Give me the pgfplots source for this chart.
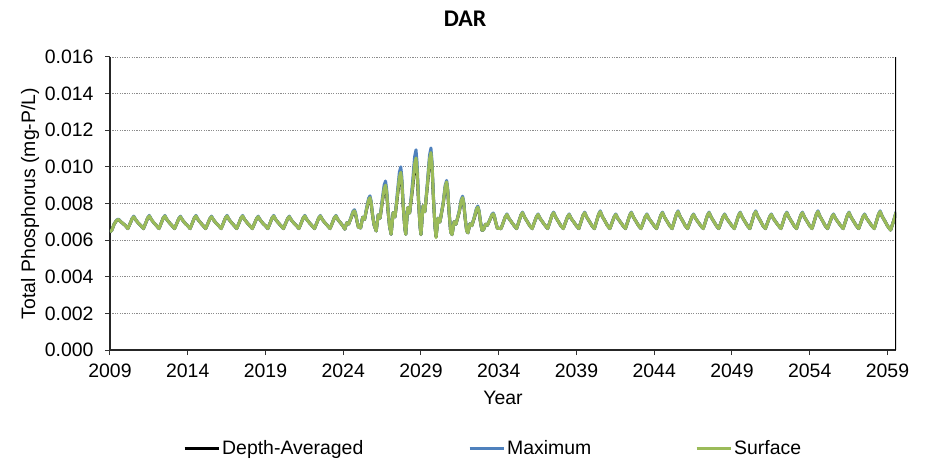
\documentclass[border=0pt]{standalone}
\usepackage{pgfplots}
\pgfplotsset{compat=1.18}
\usepackage{pgfplotstable}
\usepackage{fontspec}
\setmainfont{Liberation Sans}
\newfontfamily\titlefont{Carlito}
\definecolor{xlblue}{HTML}{4F81BD}
\definecolor{xlgreen}{HTML}{9BBB59}
\newcommand\chartfont{\fontsize{19.5}{23.4}\selectfont}

% year  surface  maximum  depth-averaged
\pgfplotstableread{
x s m d
2009.00 0.00644 0.00644 0.00644
2009.12 0.00655 0.00655 0.00655
2009.27 0.00688 0.00688 0.00688
2009.42 0.00708 0.00709 0.00707
2009.55 0.00713 0.00715 0.00711
2009.70 0.00700 0.00700 0.00700
2009.85 0.00690 0.00690 0.00690
2010.00 0.00678 0.00678 0.00678
2010.15 0.00663 0.00663 0.00663
2010.30 0.00692 0.00692 0.00692
2010.43 0.00718 0.00718 0.00718
2010.53 0.00728 0.00731 0.00726
2010.67 0.00709 0.00709 0.00709
2010.83 0.00692 0.00692 0.00692
2011.00 0.00678 0.00678 0.00678
2011.15 0.00663 0.00663 0.00663
2011.30 0.00694 0.00694 0.00694
2011.43 0.00722 0.00722 0.00722
2011.53 0.00732 0.00735 0.00730
2011.67 0.00711 0.00711 0.00711
2011.83 0.00694 0.00694 0.00694
2012.00 0.00678 0.00678 0.00678
2012.15 0.00663 0.00663 0.00663
2012.30 0.00694 0.00694 0.00694
2012.43 0.00722 0.00722 0.00722
2012.53 0.00732 0.00735 0.00730
2012.67 0.00711 0.00711 0.00711
2012.83 0.00694 0.00694 0.00694
2013.00 0.00678 0.00678 0.00678
2013.15 0.00663 0.00663 0.00663
2013.30 0.00692 0.00692 0.00692
2013.43 0.00718 0.00718 0.00718
2013.53 0.00728 0.00731 0.00726
2013.67 0.00709 0.00709 0.00709
2013.83 0.00692 0.00692 0.00692
2014.00 0.00678 0.00678 0.00678
2014.15 0.00663 0.00663 0.00663
2014.30 0.00694 0.00694 0.00694
2014.43 0.00722 0.00722 0.00722
2014.53 0.00732 0.00735 0.00730
2014.67 0.00711 0.00711 0.00711
2014.83 0.00694 0.00694 0.00694
2015.00 0.00678 0.00678 0.00678
2015.15 0.00663 0.00663 0.00663
2015.30 0.00692 0.00692 0.00692
2015.43 0.00718 0.00718 0.00718
2015.53 0.00728 0.00731 0.00726
2015.67 0.00709 0.00709 0.00709
2015.83 0.00692 0.00692 0.00692
2016.00 0.00678 0.00678 0.00678
2016.15 0.00663 0.00663 0.00663
2016.30 0.00694 0.00694 0.00694
2016.43 0.00722 0.00722 0.00722
2016.53 0.00732 0.00735 0.00730
2016.67 0.00711 0.00711 0.00711
2016.83 0.00694 0.00694 0.00694
2017.00 0.00678 0.00678 0.00678
2017.15 0.00663 0.00663 0.00663
2017.30 0.00694 0.00694 0.00694
2017.43 0.00722 0.00722 0.00722
2017.53 0.00732 0.00735 0.00730
2017.67 0.00711 0.00711 0.00711
2017.83 0.00694 0.00694 0.00694
2018.00 0.00678 0.00678 0.00678
2018.15 0.00663 0.00663 0.00663
2018.30 0.00692 0.00692 0.00692
2018.43 0.00718 0.00718 0.00718
2018.53 0.00728 0.00731 0.00726
2018.67 0.00709 0.00709 0.00709
2018.83 0.00692 0.00692 0.00692
2019.00 0.00678 0.00678 0.00678
2019.15 0.00663 0.00663 0.00663
2019.30 0.00694 0.00694 0.00694
2019.43 0.00722 0.00722 0.00722
2019.53 0.00732 0.00735 0.00730
2019.67 0.00711 0.00711 0.00711
2019.83 0.00694 0.00694 0.00694
2020.00 0.00678 0.00678 0.00678
2020.15 0.00663 0.00663 0.00663
2020.30 0.00692 0.00692 0.00692
2020.43 0.00718 0.00718 0.00718
2020.53 0.00728 0.00731 0.00726
2020.67 0.00709 0.00709 0.00709
2020.83 0.00692 0.00692 0.00692
2021.00 0.00678 0.00678 0.00678
2021.15 0.00663 0.00663 0.00663
2021.30 0.00694 0.00694 0.00694
2021.43 0.00722 0.00722 0.00722
2021.53 0.00732 0.00735 0.00730
2021.67 0.00711 0.00711 0.00711
2021.83 0.00694 0.00694 0.00694
2022.00 0.00678 0.00678 0.00678
2022.15 0.00663 0.00663 0.00663
2022.30 0.00694 0.00694 0.00694
2022.43 0.00722 0.00722 0.00722
2022.53 0.00732 0.00735 0.00730
2022.67 0.00711 0.00711 0.00711
2022.83 0.00694 0.00694 0.00694
2023.00 0.00678 0.00678 0.00678
2023.15 0.00663 0.00663 0.00663
2023.30 0.00694 0.00694 0.00694
2023.43 0.00722 0.00722 0.00722
2023.53 0.00732 0.00735 0.00730
2023.67 0.00711 0.00711 0.00711
2023.83 0.00694 0.00694 0.00694
2024.00 0.00675 0.00675 0.00675
2024.10 0.00660 0.00660 0.00660
2024.23 0.00695 0.00695 0.00695
2024.35 0.00688 0.00688 0.00688
2024.50 0.00722 0.00726 0.00720
2024.63 0.00752 0.00758 0.00749
2024.72 0.00760 0.00766 0.00757
2024.79 0.00745 0.00750 0.00742
2024.88 0.00705 0.00708 0.00704
2024.98 0.00670 0.00670 0.00670
2025.12 0.00667 0.00667 0.00667
2025.25 0.00725 0.00725 0.00725
2025.37 0.00713 0.00713 0.00713
2025.50 0.00769 0.00776 0.00767
2025.63 0.00819 0.00828 0.00815
2025.72 0.00832 0.00842 0.00828
2025.79 0.00807 0.00816 0.00804
2025.88 0.00741 0.00746 0.00739
2025.98 0.00684 0.00684 0.00684
2026.12 0.00650 0.00650 0.00650
2026.25 0.00738 0.00738 0.00738
2026.37 0.00720 0.00720 0.00720
2026.50 0.00805 0.00819 0.00801
2026.63 0.00880 0.00901 0.00874
2026.72 0.00900 0.00923 0.00893
2026.79 0.00863 0.00882 0.00857
2026.88 0.00763 0.00773 0.00759
2026.98 0.00675 0.00675 0.00675
2027.08 0.00632 0.00632 0.00632
2027.21 0.00750 0.00750 0.00750
2027.33 0.00727 0.00727 0.00727
2027.48 0.00842 0.00860 0.00835
2027.61 0.00943 0.00971 0.00934
2027.70 0.00970 0.01000 0.00960
2027.77 0.00919 0.00945 0.00911
2027.86 0.00784 0.00798 0.00780
2027.96 0.00666 0.00666 0.00666
2028.02 0.00632 0.00632 0.00632
2028.15 0.00778 0.00778 0.00778
2028.27 0.00748 0.00748 0.00748
2028.46 0.00890 0.00918 0.00882
2028.59 0.01015 0.01056 0.01003
2028.68 0.01048 0.01093 0.01035
2028.75 0.00986 0.01024 0.00975
2028.84 0.00819 0.00839 0.00813
2028.94 0.00674 0.00674 0.00674
2029.00 0.00630 0.00630 0.00630
2029.13 0.00787 0.00787 0.00787
2029.25 0.00755 0.00755 0.00755
2029.42 0.00908 0.00923 0.00902
2029.55 0.01042 0.01065 0.01033
2029.64 0.01078 0.01103 0.01068
2029.71 0.01011 0.01032 0.01002
2029.80 0.00832 0.00843 0.00827
2029.90 0.00675 0.00675 0.00675
2029.97 0.00614 0.00625 0.00618
2030.10 0.00720 0.00720 0.00720
2030.22 0.00699 0.00699 0.00699
2030.43 0.00802 0.00807 0.00799
2030.56 0.00894 0.00901 0.00888
2030.65 0.00918 0.00926 0.00912
2030.72 0.00872 0.00879 0.00867
2030.81 0.00751 0.00754 0.00748
2030.91 0.00644 0.00644 0.00644
2031.00 0.00630 0.00630 0.00630
2031.13 0.00701 0.00701 0.00701
2031.25 0.00687 0.00687 0.00687
2031.46 0.00755 0.00760 0.00753
2031.59 0.00816 0.00823 0.00812
2031.68 0.00832 0.00840 0.00828
2031.75 0.00802 0.00809 0.00798
2031.84 0.00721 0.00725 0.00719
2031.94 0.00650 0.00650 0.00650
2032.02 0.00640 0.00640 0.00640
2032.15 0.00689 0.00689 0.00689
2032.27 0.00679 0.00679 0.00679
2032.44 0.00727 0.00731 0.00724
2032.57 0.00769 0.00774 0.00765
2032.66 0.00780 0.00786 0.00776
2032.73 0.00759 0.00764 0.00756
2032.82 0.00703 0.00706 0.00701
2032.92 0.00654 0.00654 0.00654
2033.02 0.00656 0.00656 0.00656
2033.15 0.00687 0.00687 0.00687
2033.27 0.00681 0.00681 0.00681
2033.43 0.00711 0.00711 0.00711
2033.56 0.00737 0.00741 0.00734
2033.65 0.00744 0.00748 0.00741
2033.72 0.00731 0.00734 0.00728
2033.81 0.00696 0.00696 0.00696
2033.91 0.00665 0.00665 0.00665
2034.15 0.00663 0.00663 0.00663
2034.30 0.00698 0.00698 0.00698
2034.43 0.00728 0.00728 0.00728
2034.53 0.00740 0.00743 0.00738
2034.67 0.00717 0.00717 0.00717
2034.83 0.00698 0.00698 0.00698
2035.00 0.00678 0.00678 0.00678
2035.15 0.00663 0.00663 0.00663
2035.30 0.00702 0.00702 0.00702
2035.43 0.00737 0.00737 0.00737
2035.53 0.00750 0.00753 0.00748
2035.67 0.00724 0.00724 0.00724
2035.83 0.00702 0.00702 0.00702
2036.00 0.00678 0.00678 0.00678
2036.15 0.00663 0.00663 0.00663
2036.30 0.00698 0.00698 0.00698
2036.43 0.00728 0.00728 0.00728
2036.53 0.00740 0.00743 0.00738
2036.67 0.00717 0.00717 0.00717
2036.83 0.00698 0.00698 0.00698
2037.00 0.00678 0.00678 0.00678
2037.15 0.00663 0.00663 0.00663
2037.30 0.00702 0.00702 0.00702
2037.43 0.00737 0.00737 0.00737
2037.53 0.00750 0.00753 0.00748
2037.67 0.00724 0.00724 0.00724
2037.83 0.00702 0.00702 0.00702
2038.00 0.00678 0.00678 0.00678
2038.15 0.00663 0.00663 0.00663
2038.30 0.00698 0.00698 0.00698
2038.43 0.00728 0.00728 0.00728
2038.53 0.00740 0.00743 0.00738
2038.67 0.00717 0.00717 0.00717
2038.83 0.00698 0.00698 0.00698
2039.00 0.00678 0.00678 0.00678
2039.15 0.00663 0.00663 0.00663
2039.30 0.00702 0.00702 0.00702
2039.43 0.00737 0.00737 0.00737
2039.53 0.00750 0.00753 0.00748
2039.67 0.00724 0.00724 0.00724
2039.83 0.00702 0.00702 0.00702
2040.00 0.00678 0.00678 0.00678
2040.15 0.00663 0.00663 0.00663
2040.30 0.00705 0.00705 0.00705
2040.43 0.00742 0.00742 0.00742
2040.53 0.00756 0.00760 0.00754
2040.67 0.00728 0.00728 0.00728
2040.83 0.00705 0.00705 0.00705
2041.00 0.00678 0.00678 0.00678
2041.15 0.00663 0.00663 0.00663
2041.30 0.00698 0.00698 0.00698
2041.43 0.00728 0.00728 0.00728
2041.53 0.00740 0.00743 0.00738
2041.67 0.00717 0.00717 0.00717
2041.83 0.00698 0.00698 0.00698
2042.00 0.00678 0.00678 0.00678
2042.15 0.00663 0.00663 0.00663
2042.30 0.00702 0.00702 0.00702
2042.43 0.00737 0.00737 0.00737
2042.53 0.00750 0.00753 0.00748
2042.67 0.00724 0.00724 0.00724
2042.83 0.00702 0.00702 0.00702
2043.00 0.00678 0.00678 0.00678
2043.15 0.00663 0.00663 0.00663
2043.30 0.00698 0.00698 0.00698
2043.43 0.00728 0.00728 0.00728
2043.53 0.00740 0.00743 0.00738
2043.67 0.00717 0.00717 0.00717
2043.83 0.00698 0.00698 0.00698
2044.00 0.00678 0.00678 0.00678
2044.15 0.00663 0.00663 0.00663
2044.30 0.00702 0.00702 0.00702
2044.43 0.00737 0.00737 0.00737
2044.53 0.00750 0.00753 0.00748
2044.67 0.00724 0.00724 0.00724
2044.83 0.00702 0.00702 0.00702
2045.00 0.00678 0.00678 0.00678
2045.15 0.00663 0.00663 0.00663
2045.30 0.00705 0.00705 0.00705
2045.43 0.00742 0.00742 0.00742
2045.53 0.00756 0.00760 0.00754
2045.67 0.00728 0.00728 0.00728
2045.83 0.00705 0.00705 0.00705
2046.00 0.00678 0.00678 0.00678
2046.15 0.00663 0.00663 0.00663
2046.30 0.00698 0.00698 0.00698
2046.43 0.00728 0.00728 0.00728
2046.53 0.00740 0.00743 0.00738
2046.67 0.00717 0.00717 0.00717
2046.83 0.00698 0.00698 0.00698
2047.00 0.00678 0.00678 0.00678
2047.15 0.00663 0.00663 0.00663
2047.30 0.00702 0.00702 0.00702
2047.43 0.00737 0.00737 0.00737
2047.53 0.00750 0.00753 0.00748
2047.67 0.00724 0.00724 0.00724
2047.83 0.00702 0.00702 0.00702
2048.00 0.00678 0.00678 0.00678
2048.15 0.00663 0.00663 0.00663
2048.30 0.00698 0.00698 0.00698
2048.43 0.00728 0.00728 0.00728
2048.53 0.00740 0.00743 0.00738
2048.67 0.00717 0.00717 0.00717
2048.83 0.00698 0.00698 0.00698
2049.00 0.00678 0.00678 0.00678
2049.15 0.00663 0.00663 0.00663
2049.30 0.00702 0.00702 0.00702
2049.43 0.00737 0.00737 0.00737
2049.53 0.00750 0.00753 0.00748
2049.67 0.00724 0.00724 0.00724
2049.83 0.00702 0.00702 0.00702
2050.00 0.00678 0.00678 0.00678
2050.15 0.00663 0.00663 0.00663
2050.30 0.00705 0.00705 0.00705
2050.43 0.00742 0.00742 0.00742
2050.53 0.00756 0.00760 0.00754
2050.67 0.00728 0.00728 0.00728
2050.83 0.00705 0.00705 0.00705
2051.00 0.00678 0.00678 0.00678
2051.15 0.00663 0.00663 0.00663
2051.30 0.00698 0.00698 0.00698
2051.43 0.00728 0.00728 0.00728
2051.53 0.00740 0.00743 0.00738
2051.67 0.00717 0.00717 0.00717
2051.83 0.00698 0.00698 0.00698
2052.00 0.00678 0.00678 0.00678
2052.15 0.00663 0.00663 0.00663
2052.30 0.00702 0.00702 0.00702
2052.43 0.00737 0.00737 0.00737
2052.53 0.00750 0.00753 0.00748
2052.67 0.00724 0.00724 0.00724
2052.83 0.00702 0.00702 0.00702
2053.00 0.00678 0.00678 0.00678
2053.15 0.00663 0.00663 0.00663
2053.30 0.00702 0.00702 0.00702
2053.43 0.00737 0.00737 0.00737
2053.53 0.00750 0.00753 0.00748
2053.67 0.00724 0.00724 0.00724
2053.83 0.00702 0.00702 0.00702
2054.00 0.00678 0.00678 0.00678
2054.15 0.00663 0.00663 0.00663
2054.30 0.00705 0.00705 0.00705
2054.43 0.00742 0.00742 0.00742
2054.53 0.00756 0.00760 0.00754
2054.67 0.00728 0.00728 0.00728
2054.83 0.00705 0.00705 0.00705
2055.00 0.00678 0.00678 0.00678
2055.15 0.00663 0.00663 0.00663
2055.30 0.00698 0.00698 0.00698
2055.43 0.00728 0.00728 0.00728
2055.53 0.00740 0.00743 0.00738
2055.67 0.00717 0.00717 0.00717
2055.83 0.00698 0.00698 0.00698
2056.00 0.00678 0.00678 0.00678
2056.15 0.00663 0.00663 0.00663
2056.30 0.00702 0.00702 0.00702
2056.43 0.00737 0.00737 0.00737
2056.53 0.00750 0.00753 0.00748
2056.67 0.00724 0.00724 0.00724
2056.83 0.00702 0.00702 0.00702
2057.00 0.00678 0.00678 0.00678
2057.15 0.00663 0.00663 0.00663
2057.30 0.00698 0.00698 0.00698
2057.43 0.00728 0.00728 0.00728
2057.53 0.00740 0.00743 0.00738
2057.67 0.00717 0.00717 0.00717
2057.83 0.00698 0.00698 0.00698
2058.00 0.00678 0.00678 0.00678
2058.15 0.00663 0.00663 0.00663
2058.30 0.00705 0.00705 0.00705
2058.43 0.00742 0.00742 0.00742
2058.53 0.00756 0.00760 0.00754
2058.67 0.00728 0.00728 0.00728
2058.83 0.00705 0.00705 0.00705
2059.00 0.00678 0.00678 0.00678
2059.20 0.00655 0.00655 0.00655
2059.40 0.00705 0.00705 0.00705
2059.55 0.00752 0.00755 0.00750
}\tpdata

\begin{document}
\begin{tikzpicture}
\begin{axis}[
    scale only axis,
    width=786bp, height=293bp,
    xmin=2009, xmax=2059.55,
    ymin=0, ymax=0.016,
    xtick={2009,2014,2019,2024,2029,2034,2039,2044,2049,2054,2059},
    ytick={0,0.002,0.004,0.006,0.008,0.010,0.012,0.014,0.016},
    scaled y ticks=false,
    /pgf/number format/assume math mode=true,
    xticklabel style={/pgf/number format/1000 sep={}, yshift=-5bp},
    yticklabel style={/pgf/number format/.cd, fixed, fixed zerofill, precision=3,
        /tikz/.cd, xshift=-8bp},
    tick label style={font=\chartfont},
    label style={font=\chartfont},
    xlabel={Year},
    xlabel style={at={(axis description cs:0.5,-0.164)}, anchor=center},
    ylabel={Total Phosphorus (mg-P/L)},
    ylabel style={at={(axis description cs:-0.1018,0.5)}, anchor=center},
    title={\titlefont\bfseries DAR},
    title style={at={(axis description cs:0.4517,1.109)}, anchor=center, font=\fontsize{24}{28}\selectfont},
    axis x line*=bottom, axis y line*=left,
    axis line style={black!85, line width=1.5bp},
    tick align=outside, major tick length=5bp,
    tick style={black!80, line width=1bp},
    ymajorgrids,
    major grid style={black!45, line width=0.9bp, dash pattern=on 1.2bp off 1.2bp},
    legend columns=3,
    legend style={at={(axis description cs:0.0929,-0.3345)}, anchor=west,
        draw=none, inner sep=0pt, font=\chartfont,
        nodes={inner xsep=2bp},
        /tikz/every even column/.append style={column sep=0pt}},
    legend image code/.code={\draw[#1] (0bp,0bp) -- (34bp,0bp);},
]
\addplot[black, line width=3bp, line join=round] table[x=x, y=d]{\tpdata};
\addlegendentry[text width=244bp]{Depth-Averaged}
\addplot[xlblue, line width=3bp, line join=round] table[x=x, y=m]{\tpdata};
\addlegendentry[text width=186bp]{Maximum}
\addplot[xlgreen, line width=3bp, line join=round] table[x=x, y=s]{\tpdata};
\addlegendentry{Surface}
\draw[black, line width=1.3bp] (rel axis cs:1,0) -- (rel axis cs:1,1);
\end{axis}
\pgfresetboundingbox
\path[use as bounding box] (-110bp,-113bp) rectangle (825bp,350bp);
\end{tikzpicture}
\end{document}
